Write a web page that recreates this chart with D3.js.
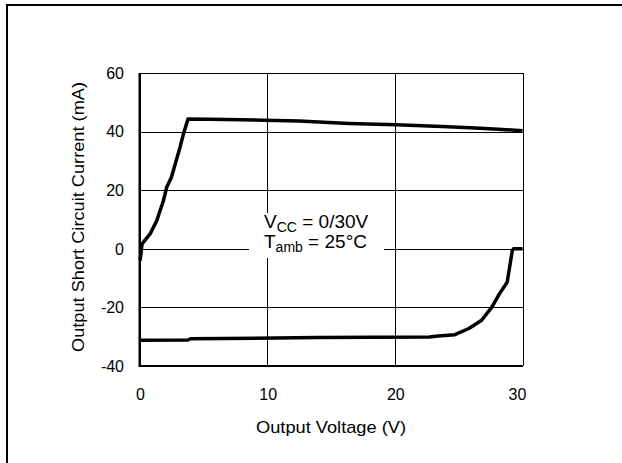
<!DOCTYPE html>
<html lang="en">
<head>
<meta charset="UTF-8">
<title>Output Short Circuit Current vs Output Voltage</title>
<script src="https://d3js.org/d3.v7.min.js"></script>
<style>
    body { margin: 0; padding: 0; background: #fff; overflow: hidden; }
    svg { display: block; font-family: "Liberation Sans", Arial, sans-serif; }
    .grid line { stroke: #000; stroke-width: 1px; shape-rendering: crispEdges; }
    .tick-label { font-size: 16px; fill: #000; }
    .title { font-size: 17px; fill: #000; }
    .curve { fill: none; stroke: #000; stroke-width: 3.5px; stroke-linejoin: round; }
</style>
</head>
<body>
<script>
    // axis ticks
    const xTicks = [0, 10, 20, 30];
    const yTicks = [-40, -20, 0, 20, 40, 60];

    // source current curve (upper)
    const sourceV = [0.05, 0.2, 0.83, 1.35, 1.87, 2.13, 2.5, 3.17, 3.43, 3.8, 5.5, 9.7, 12.5, 16.4, 20.1, 23.7, 26.3, 28.1, 30];
    const sourceI = [-4, 1.7, 5.1, 9.6, 16.4, 21, 24.4, 34.6, 39, 44.3, 44.2, 43.9, 43.6, 42.8, 42.3, 41.7, 41.2, 40.8, 40.3];

    // sink current curve (lower)
    const sinkV = [0, 3.8, 4.0, 14, 22.7, 23.4, 24.7, 25.8, 26.8, 27.6, 28.2, 28.8, 29.2, 29.3, 30];
    const sinkI = [-31.2, -31.1, -30.7, -30.3, -30.1, -29.8, -29.3, -27.2, -24.4, -19.9, -15.3, -11.4, -0.6, 0, 0];

    const width = 622, height = 463;
    const plot = { left: 139.5, right: 522.5, top: 73, bottom: 366 };

    const svg = d3.select("body").append("svg")
        .attr("width", width)
        .attr("height", height);

    // page frame
    svg.append("line").attr("x1", 6).attr("x2", width).attr("y1", 5).attr("y2", 5)
        .attr("stroke", "#000").attr("stroke-width", 2);
    svg.append("line").attr("x1", 7).attr("x2", 7).attr("y1", 4).attr("y2", height)
        .attr("stroke", "#000").attr("stroke-width", 2);

    const x = d3.scaleLinear().domain([0, 30]).range([plot.left, plot.right]);
    const y = d3.scaleLinear().domain([-40, 60]).range([plot.bottom, plot.top]);

    // grid lines
    const grid = svg.append("g").attr("class", "grid");
    grid.selectAll(".vx").data(xTicks).enter().append("line")
        .attr("x1", d => Math.round(x(d)) + 0.5).attr("x2", d => Math.round(x(d)) + 0.5)
        .attr("y1", plot.top).attr("y2", plot.bottom);
    grid.selectAll(".hy").data(yTicks).enter().append("line")
        .attr("x1", plot.left).attr("x2", plot.right)
        .attr("y1", d => Math.round(y(d)) + 0.5).attr("y2", d => Math.round(y(d)) + 0.5);

    // thicker left and bottom axes
    svg.append("line").attr("x1", x(0)).attr("x2", x(0)).attr("y1", plot.top).attr("y2", plot.bottom + 1)
        .attr("stroke", "#000").attr("stroke-width", 2);
    svg.append("line").attr("x1", plot.left).attr("x2", plot.right).attr("y1", y(-40)).attr("y2", y(-40))
        .attr("stroke", "#000").attr("stroke-width", 2);

    // tick labels
    svg.selectAll(".xt").data(xTicks).enter().append("text")
        .attr("class", "tick-label")
        .attr("x", d => x(d) + (d === 30 ? -5 : 1))
        .attr("y", 400)
        .attr("text-anchor", "middle")
        .text(d => d);
    svg.selectAll(".yt").data(yTicks).enter().append("text")
        .attr("class", "tick-label")
        .attr("x", 124)
        .attr("y", d => y(d))
        .attr("dy", "0.36em")
        .attr("text-anchor", "end")
        .text(d => d);

    // axis titles
    svg.append("text").attr("class", "title")
        .attr("x", (plot.left + plot.right) / 2).attr("y", 433)
        .attr("text-anchor", "middle")
        .attr("textLength", 150).attr("lengthAdjust", "spacingAndGlyphs")
        .text("Output Voltage (V)");
    svg.append("text").attr("class", "title")
        .attr("transform", `translate(84,${(82 + 352) / 2}) rotate(-90)`)
        .attr("text-anchor", "middle")
        .attr("textLength", 270).attr("lengthAdjust", "spacingAndGlyphs")
        .text("Output Short Circuit Current (mA)");

    // annotation box hides the grid behind it
    svg.append("rect").attr("x", 249).attr("y", 213).attr("width", 135).attr("height", 45)
        .attr("fill", "#fff");
    const note = svg.append("g").attr("class", "title").style("font-size", "19px");
    const t1 = note.append("text").attr("x", 264).attr("y", 228);
    t1.append("tspan").text("V");
    t1.append("tspan").style("font-size", "14px").attr("dy", 4).text("CC");
    t1.append("tspan").attr("dy", -4).text(" = 0/30V");
    const t2 = note.append("text").attr("x", 264).attr("y", 248);
    t2.append("tspan").text("T");
    t2.append("tspan").style("font-size", "14px").attr("dy", 4).text("amb");
    t2.append("tspan").attr("dy", -4).text(" = 25°C");

    // curves
    const line = d3.line().x(d => x(d[0])).y(d => y(d[1]));
    svg.append("path").attr("class", "curve")
        .attr("d", line(sourceV.map((v, i) => [v, sourceI[i]])));
    svg.append("path").attr("class", "curve")
        .attr("d", line(sinkV.map((v, i) => [v, sinkI[i]])));
</script>
</body>
</html>
